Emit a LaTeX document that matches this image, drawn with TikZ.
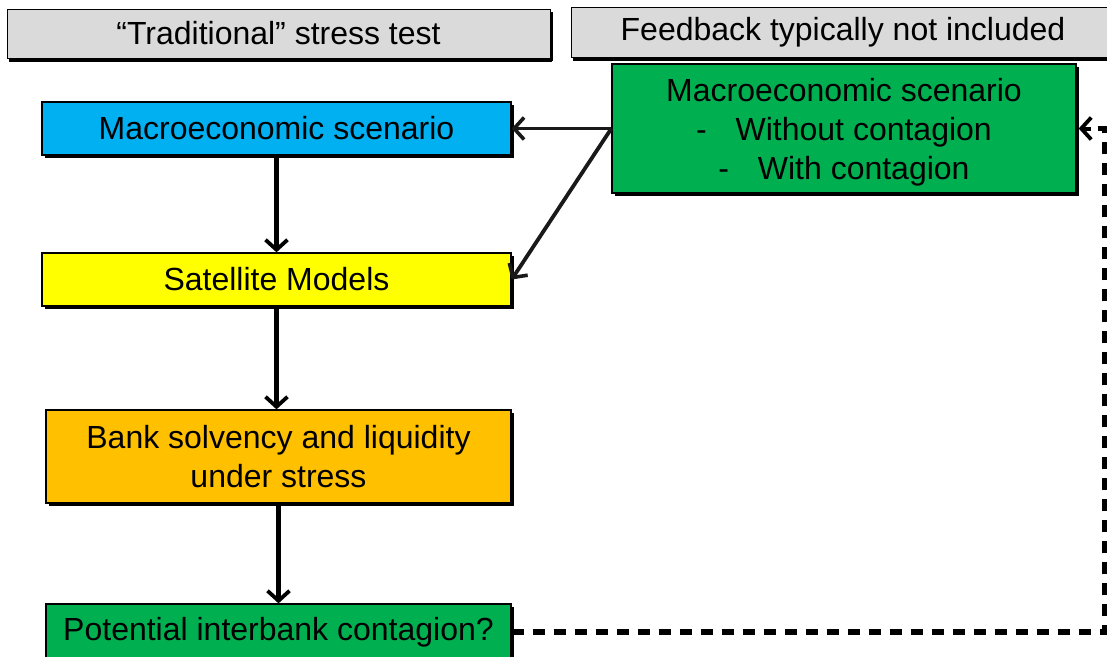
\documentclass[tikz,border=0pt]{standalone}
\usepackage{fontspec}
\setmainfont{Liberation Sans}
\usetikzlibrary{arrows.meta,shadows}
\definecolor{hdrgray}{HTML}{DADADA}
\definecolor{cblue}{HTML}{00B0F0}
\definecolor{cyellow}{HTML}{FFFF00}
\definecolor{corange}{HTML}{FFC000}
\definecolor{cgreen}{HTML}{00B050}
\tikzset{
  box/.style={draw=black, line width=1.3pt, inner sep=0pt, align=center,
    font=\fontsize{32}{39}\selectfont,
    drop shadow={shadow xshift=2.5pt, shadow yshift=-2.5pt, fill=black, opacity=1}},
  hdr/.style={box, fill=hdrgray, line width=1pt,
    drop shadow={shadow xshift=2pt, shadow yshift=-3.5pt, fill=black, opacity=1}},
  flow/.style={line width=4.5pt, -{Straight Barb[length=10pt,width=22pt,line width=3.8pt]}},
  fb/.style={line width=3.8pt, draw=black!90, -{Straight Barb[length=10pt,width=22pt,line width=3.6pt]}},
  dashline/.style={line width=5.5pt, dash pattern=on 12pt off 9pt},
}
\begin{document}
\begin{tikzpicture}[x=1pt,y=-1pt]
\useasboundingbox (0,0) rectangle (1107,656);
\clip (0,0) rectangle (1107,656);
\node[hdr, minimum width=543pt, minimum height=49pt] (h1) at (278.5,33.5) {``Traditional'' stress test};
\node[hdr, minimum width=544pt, minimum height=50pt] (h2) at (843,32) {\raisebox{-2pt}{Feedback typically not included}};
\node[box, fill=cgreen, minimum width=464pt, minimum height=129pt] (gtop) at (844,128.5)
  {\rule{0pt}{30pt}Macroeconomic scenario\\ -\hspace{0.9em}Without contagion\\ -\hspace{0.9em}With contagion};
\node[box, fill=cblue, minimum width=469pt, minimum height=53pt] (blue) at (276.5,128.5) {Macroeconomic scenario};
\node[box, fill=cyellow, minimum width=469pt, minimum height=53pt] (yellow) at (276.5,279.5) {Satellite Models};
\node[box, fill=corange, minimum width=465pt, minimum height=93pt] (orange) at (278.5,456.5) {Bank solvency and liquidity\\ under stress};
\node[box, fill=cgreen, minimum width=465pt, minimum height=56pt] (greenb) at (278.5,632) {Potential interbank contagion?};
\coordinate (c1) at (1105,632);
\coordinate (c2) at (1105,128.5);
\draw[flow] (blue.south) -- (yellow.north);
\draw[flow] (yellow.south) -- (yellow.south |- orange.north);
\draw[flow] (orange.south) -- (orange.south |- greenb.north);
\draw[fb] (gtop.west) -- (blue.east);
\draw[fb] (gtop.west) -- (yellow.east);
\draw[dashline] (greenb.east) -- (c1) -- (c2) -- ([xshift=14pt]gtop.east);
\draw[line width=4pt, -{Straight Barb[length=10pt,width=22pt,line width=3.8pt]}] ([xshift=14pt]gtop.east) -- ([xshift=2pt]gtop.east);
\end{tikzpicture}
\end{document}
